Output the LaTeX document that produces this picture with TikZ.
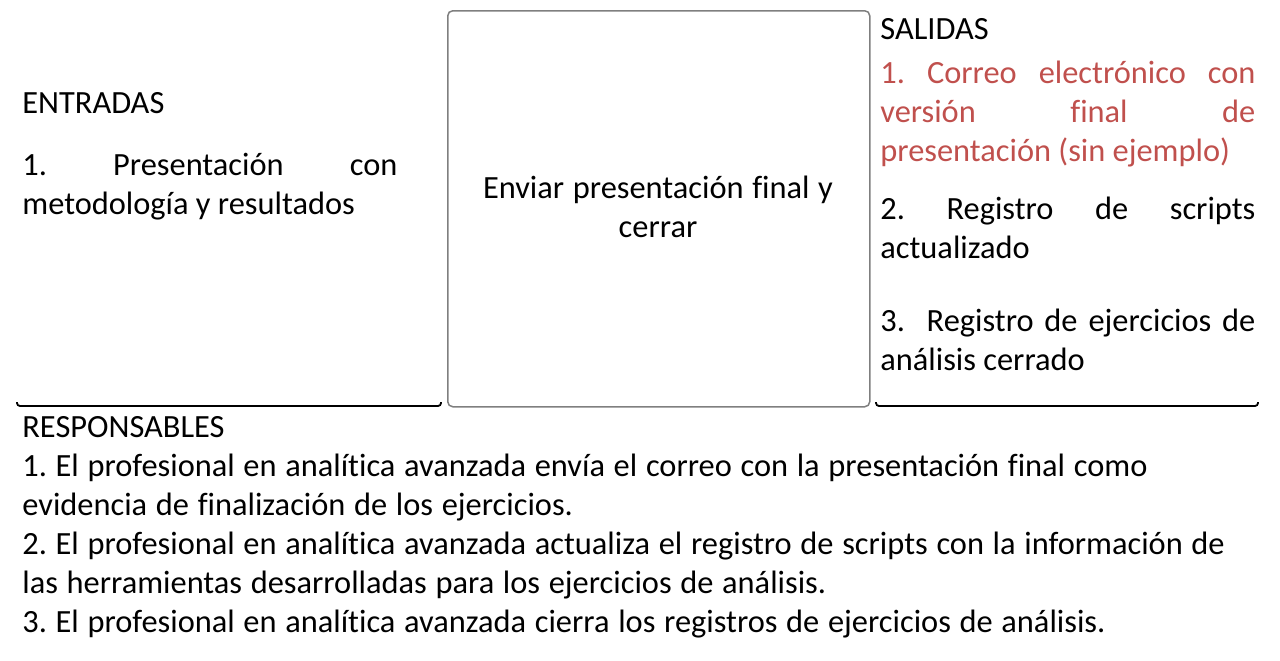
\documentclass[tikz,border=0pt]{standalone}
\usepackage{fontspec}
\setmainfont{Carlito}[Ligatures={NoCommon}]
\frenchspacing
\definecolor{redtxt}{HTML}{C0504D}
\definecolor{boxgray}{HTML}{7F7F7F}
\begin{document}
\begin{tikzpicture}[x=0.5pt,y=-0.5pt,
  txt/.style={anchor=base west, inner sep=0pt, font=\fontsize{16.2pt}{19.5pt}\selectfont\frenchspacing},
  col/.style={txt, text width=187.5pt, align=justify},
  narrowsp/.style={execute at begin node={\spaceskip=4.35pt\relax}},
  wide/.style={txt, narrowsp, text width=630pt, align=left},
  procbox/.style={draw=boxgray, line width=0.75pt, rounded corners=2.5pt},
  baseline/.style={draw=black, line width=0.9pt, rounded corners=1.5pt}]
\useasboundingbox (0,0) rectangle (1280,660);
% middle process box
\node[procbox, minimum width=211pt, minimum height=198pt, anchor=north west] (box) at (447,10) {};
\node[txt, narrowsp, anchor=base, text width=200pt, align=center] (proc) at (658,198) {Enviar presentación final y\\cerrar};
% bottom separators
\coordinate (l1) at (17,402); \coordinate (l2) at (17,406); \coordinate (l3) at (441,406); \coordinate (l4) at (441,402);
\draw[baseline] (l1) -- (l2) -- (l3) -- (l4);
\coordinate (r1) at (876,402); \coordinate (r2) at (876,406); \coordinate (r3) at (1258,406); \coordinate (r4) at (1258,402);
\draw[baseline] (r1) -- (r2) -- (r3) -- (r4);
% entradas
\node[txt] (ent) at (22,113) {ENTRADAS};
\node[col] (ent1) at (22,175) {1. Presentación con\linebreak metodología y resultados};
% salidas
\node[txt] (sal) at (880,39) {SALIDAS};
\node[col, text=redtxt] (sal1) at (880,83) {1. Correo electrónico con\linebreak versión final de\linebreak presentación (sin ejemplo)};
\node[col] (sal2) at (880,219) {2. Registro de scripts\linebreak actualizado};
\node[col] (sal3) at (880,331) {3.\ \ Registro de ejercicios de\linebreak análisis cerrado};
% responsables
\node[txt] (resp) at (22,437) {RESPONSABLES};
\node[wide] (resp1) at (22,476) {1. El profesional en analítica avanzada envía el correo con la presentación final como\\
evidencia de finalización de los ejercicios.\\
2. El profesional en analítica avanzada actualiza el registro de scripts con la información de\\
las herramientas desarrolladas para los ejercicios de análisis.\\
3. El profesional en analítica avanzada cierra los registros de ejercicios de análisis.};
\end{tikzpicture}
\end{document}
